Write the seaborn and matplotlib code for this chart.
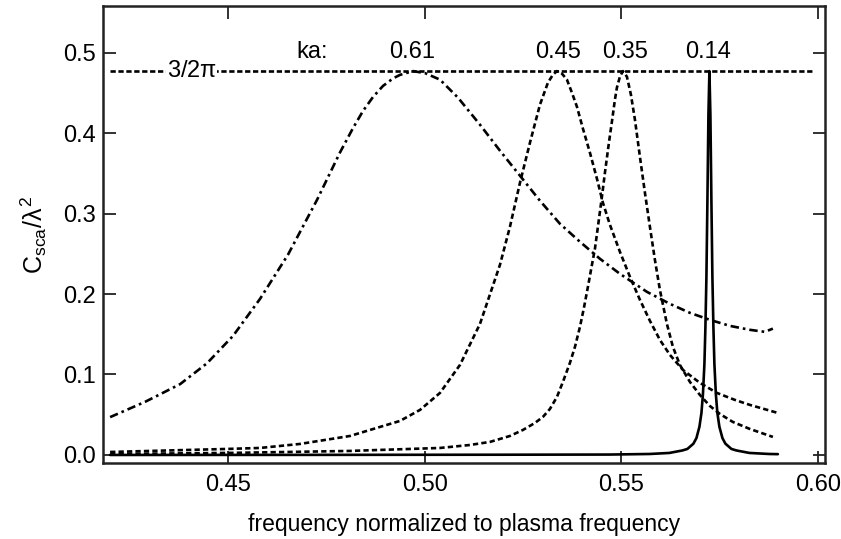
import numpy as np
import matplotlib
matplotlib.use("Agg")
import matplotlib.pyplot as plt
import seaborn as sns

# values (frequency / plasma frequency, C_sca / lambda^2)
x_061 = [0.42000, 0.42890, 0.43780, 0.44466, 0.45127, 0.45813, 0.46525, 0.47262, 0.47847,
         0.48178, 0.48432, 0.48686, 0.48940, 0.49194, 0.49372, 0.49703, 0.50008, 0.50389,
         0.50847, 0.51406, 0.51914, 0.52423, 0.52931, 0.53439, 0.53948, 0.54456, 0.54964,
         0.55651, 0.56235, 0.56744, 0.57252, 0.57761, 0.58269, 0.58650, 0.58854]
y_061 = [0.047, 0.066, 0.088, 0.114, 0.148, 0.194, 0.249, 0.317, 0.376,
         0.4063, 0.4275, 0.4449, 0.4586, 0.4679, 0.4723, 0.477, 0.4745, 0.4664,
         0.4440, 0.4104, 0.3781, 0.3470, 0.3159, 0.2873, 0.2649, 0.2438, 0.2251,
         0.2027, 0.1878, 0.1766, 0.1679, 0.1604, 0.1555, 0.1530, 0.1570]

x_045 = [0.42000, 0.45000, 0.45813, 0.46830, 0.48101, 0.49372, 0.49881, 0.50389, 0.50897,
         0.51406, 0.51914, 0.52168, 0.52423, 0.52677, 0.52931, 0.53134, 0.53261, 0.53363,
         0.53490, 0.53617, 0.53744, 0.53871, 0.54024, 0.54202, 0.54380, 0.54532, 0.54710,
         0.54964, 0.55219, 0.55473, 0.55727, 0.55981, 0.56235, 0.56566, 0.56998, 0.57430,
         0.57888, 0.58269, 0.58981]
y_045 = [0.0037, 0.0075, 0.0087, 0.0137, 0.0236, 0.0423, 0.0560, 0.0771, 0.1119,
         0.1629, 0.2363, 0.2836, 0.3383, 0.3881, 0.4353, 0.4627, 0.4726, 0.4770,
         0.4739, 0.4664, 0.4502, 0.4328, 0.4055, 0.3756, 0.3433, 0.3134, 0.2861,
         0.2525, 0.2214, 0.1928, 0.1667, 0.1430, 0.1244, 0.1057, 0.0896, 0.0771,
         0.0684, 0.0622, 0.0522]

x_035 = [0.42000, 0.45000, 0.48101, 0.50389, 0.51151, 0.51660, 0.52168, 0.52499, 0.52804,
         0.53007, 0.53185, 0.53363, 0.53515, 0.53693, 0.53821, 0.53948, 0.54049, 0.54151,
         0.54253, 0.54329, 0.54405, 0.54507, 0.54583, 0.54685, 0.54761, 0.54837, 0.54888,
         0.54964, 0.55041, 0.55142, 0.55244, 0.55346, 0.55473, 0.55600, 0.55727, 0.55854,
         0.55981, 0.56159, 0.56312, 0.56490, 0.56744, 0.56998, 0.57252, 0.57506, 0.57837,
         0.58269, 0.58854]
y_035 = [0.0012, 0.0025, 0.0050, 0.0087, 0.0124, 0.0162, 0.0236, 0.0311, 0.0398,
         0.0473, 0.0572, 0.0721, 0.0908, 0.1144, 0.1343, 0.1592, 0.1828, 0.2090,
         0.2363, 0.2562, 0.2836, 0.3209, 0.3507, 0.3881, 0.4142, 0.4415, 0.4565,
         0.4701, 0.4770, 0.4701, 0.4478, 0.4167, 0.3706, 0.3259, 0.2836, 0.2425,
         0.2052, 0.1629, 0.1343, 0.1119, 0.0908, 0.0746, 0.0609, 0.0510, 0.0410,
         0.0323, 0.0224]

x_014 = [0.42000, 0.47000, 0.52000, 0.54698, 0.55715, 0.56223, 0.56554, 0.56681, 0.56833,
         0.56910, 0.56986, 0.57037, 0.57075, 0.57113, 0.57138, 0.57164, 0.57189, 0.57215,
         0.57240, 0.57265, 0.57291, 0.57316, 0.57342, 0.57367, 0.57405, 0.57443, 0.57494,
         0.57571, 0.57647, 0.57799, 0.57926, 0.58257, 0.58765, 0.58981]
y_014 = [0.0000, 0.0001, 0.0003, 0.0005, 0.0012, 0.0025, 0.0056, 0.0075, 0.0140,
         0.0210, 0.0350, 0.0520, 0.0750, 0.1130, 0.1580, 0.2210, 0.3150, 0.4230,
         0.4770, 0.4230, 0.3150, 0.2210, 0.1580, 0.1130, 0.0750, 0.0520, 0.0350,
         0.0210, 0.0140, 0.0075, 0.0056, 0.0025, 0.0012, 0.0010]

peak_value = 3 / (2 * np.pi)
peak_line_x = [0.420, 0.599]

ka_labels = ["0.61", "0.45", "0.35", "0.14"]
ka_label_x = [0.4968, 0.5339, 0.5510, 0.5720]

sns.set_style("ticks")
plt.rcParams['font.family'] = ['Liberation Sans', 'DejaVu Sans']
plt.rcParams['mathtext.fontset'] = 'custom'
plt.rcParams['mathtext.rm'] = 'Liberation Sans'
plt.rcParams['mathtext.it'] = 'Liberation Sans'
plt.rcParams['text.color'] = 'black'
plt.rcParams['axes.labelcolor'] = 'black'

fig = plt.figure(figsize=(8.41, 5.39), dpi=100)
ax = fig.add_axes([0.1225, 0.141, 0.8585, 0.848])

lw = 1.9
dashed = (0, (2.0, 1.2))
sns.lineplot(x=x_061, y=y_061, ax=ax, color='black', lw=lw, linestyle=(0, (3.2, 1.5, 1.0, 1.5)))
sns.lineplot(x=x_045, y=y_045, ax=ax, color='black', lw=lw, linestyle=dashed)
sns.lineplot(x=x_035, y=y_035, ax=ax, color='black', lw=lw, linestyle=dashed)
sns.lineplot(x=x_014, y=y_014, ax=ax, color='black', lw=lw, linestyle='-')

# 3/2pi reference line
ax.hlines(peak_value, peak_line_x[0], peak_line_x[1], color='black', lw=lw,
          linestyles=(0, (2.0, 1.0)))
ax.text(0.4408, peak_value, r"3/2$\pi$", fontsize=17, ha='center', va='center',
        bbox=dict(facecolor='white', edgecolor='none', pad=0.3))
ax.text(0.4713, 0.501, "ka:", fontsize=17, ha='center', va='center')
for lab, xl in zip(ka_labels, ka_label_x):
    ax.text(xl, 0.501, lab, fontsize=17, ha='center', va='center')

ax.set_xlim(0.4182, 0.6018)
ax.set_ylim(-0.01, 0.558)
ax.set_xticks([0.45, 0.50, 0.55, 0.60])
ax.set_xticklabels(["0.45", "0.50", "0.55", "0.60"])
ax.set_yticks([0.0, 0.1, 0.2, 0.3, 0.4, 0.5])
ax.set_yticklabels(["0.0", "0.1", "0.2", "0.3", "0.4", "0.5"])
ax.tick_params(direction='in', length=9, width=1.3, labelsize=17,
               top=True, right=True, colors='#222222', labelcolor='black')
ax.tick_params(axis='x', pad=8)
ax.tick_params(axis='y', pad=5)

for s in ax.spines.values():
    s.set_linewidth(1.8)
    s.set_color('#222222')

ax.set_xlabel("frequency normalized to plasma frequency", fontsize=16.5, labelpad=12)
ax.set_ylabel(r"C$_{\rm sca}$/$\lambda^2$", fontsize=18, labelpad=10)

fig.savefig("out.png", dpi=100)
